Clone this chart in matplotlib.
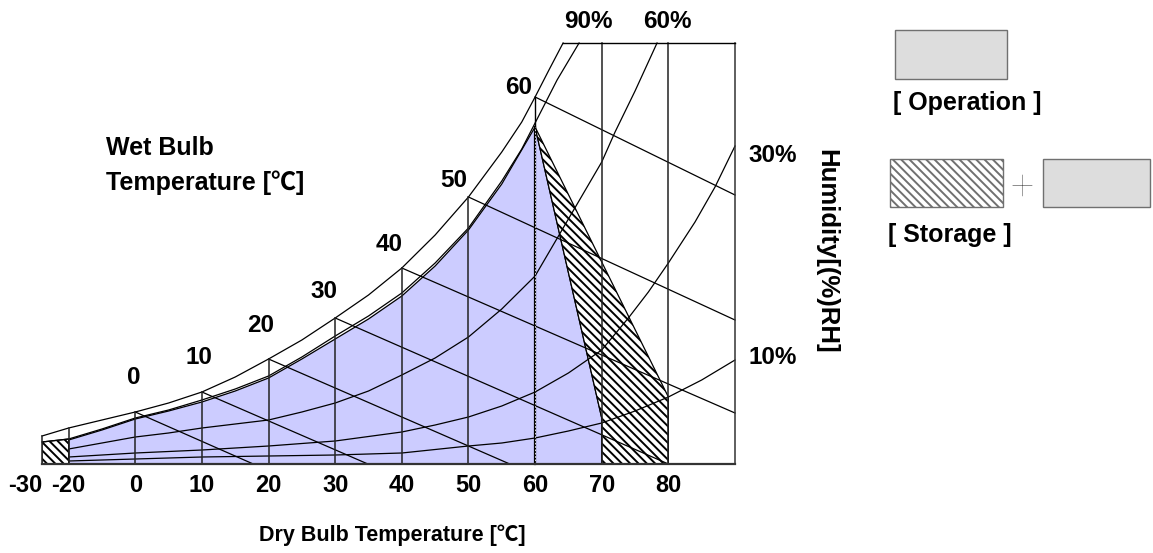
import numpy as np
import matplotlib
matplotlib.use("Agg")
import matplotlib.pyplot as plt
from matplotlib.patches import Polygon, Rectangle

# ---- data (h = height on the humidity scale) ----
db_ticks = [-30, -20, 0, 10, 20, 30, 40, 50, 60, 70, 80]
db_labels = ["-30", "-20", "0", "10", "20", "30", "40", "50", "60", "70", "80"]
db_top_h = [28, 36, 52, 72, 105, 146, 196, 267, 367, 421, 421]

sat_t = [-30, -20, -10, 0, 5, 10, 15, 20, 25, 30, 35, 40, 45, 50, 55, 58, 60, 62, 64.2]
sat_h = [28, 36, 44, 52, 61, 72, 87, 105, 124, 146, 169, 196, 229, 267, 312, 342, 367, 393, 421]

rh90_t = [-30, -20, -10, 0, 5, 10, 15, 20, 25, 30, 35, 40, 45, 50, 55, 58, 60, 63.3, 66.6]
rh90_h = [22, 25, 35, 46, 54, 64, 75, 88, 107, 128, 148, 171, 201, 236, 283, 315, 341, 384, 421]

rh60_t = [-20, -10, 0, 5, 10, 15, 20, 25, 30, 35, 40, 45, 50, 55, 60, 65, 70, 72, 75, 78.3]
rh60_h = [15, 21, 27, 31, 36, 40, 44, 52, 61, 73, 89, 106, 127, 155, 188, 245, 302, 332, 373, 421]

rh30_t = [-20, -10, 0, 10, 20, 30, 40, 45, 50, 55, 60, 65, 70, 74, 77, 80, 84, 87, 90]
rh30_h = [7, 9, 11, 14, 18, 23, 32, 39, 47, 58, 72, 91, 114, 146, 172, 201, 242, 277, 318]

rh10_t = [-20, -10, 0, 10, 20, 30, 40, 50, 55, 60, 65, 70, 75, 80, 85, 90]
rh10_h = [3, 4, 5, 7, 8, 9, 11, 18, 21, 26, 33, 41, 53, 67, 84, 104]

# wet bulb lines: start on the saturation curve, end point
wb_t = [0, 10, 20, 30, 40, 50, 60]
wb_start_h = [52, 72, 105, 146, 196, 267, 367]
wb_end_t = [17.7, 34.9, 56.2, 80, 90, 90, 90]
wb_end_h = [0, 0, 0, 0, 51, 144, 269]

# operation area (upper edge) and lower right corner
op_top_t = [-20, -10, 0, 5, 10, 15, 20, 25, 30, 35, 40, 45, 50, 55, 60]
op_top_h = [24, 34, 45, 53, 62, 73, 86, 105, 125, 145, 168, 198, 234, 280, 337]
op_corner_t = [70, 70]
op_corner_h = [46, 0]

# storage extension (hatched)
st_t = [60, 80, 80, 70, 70]
st_h = [337, 67, 0, 0, 46]
st_left_t = [-30, -30, -20, -20]
st_left_h = [0, 22, 25, 0]

W, H = 1153, 553
FONT = ["Liberation Sans", "Noto Sans CJK JP", "DejaVu Sans"]
plt.rcParams["font.family"] = FONT
plt.rcParams["hatch.linewidth"] = 1.4
HATCH = "\\\\\\\\"


def fwd(t):
    t = np.asarray(t, float)
    return np.where(t >= 0, t, np.where(t >= -20, t / 2, -10 + (t + 20) * 0.4))


def inv(c):
    c = np.asarray(c, float)
    return np.where(c >= 0, c, np.where(c >= -10, c * 2, -20 + (c + 10) / 0.4))


def px(x, y):
    return x / W, 1 - y / H


fig = plt.figure(figsize=(W / 100, H / 100), dpi=100)
ax = fig.add_axes([42 / W, (H - 464) / H, (735 - 42) / W, 421 / H])
ax.set_xscale("function", functions=(fwd, inv))
ax.set_xlim(-30, 90)
ax.set_ylim(0, 421)
for s in ax.spines.values():
    s.set_visible(False)
ax.set_yticks([])

# fills
op_t = [-20] + op_top_t + op_corner_t
op_h = [0] + op_top_h + op_corner_h
ax.add_patch(Polygon(list(zip(op_t, op_h)), closed=True, facecolor="#CCCCFF",
                     edgecolor="black", lw=0.9, zorder=1))
ax.add_patch(Polygon(list(zip(st_t, st_h)), closed=True, facecolor="white",
                     edgecolor="black", hatch=HATCH, lw=0.9, zorder=1))
ax.add_patch(Polygon(list(zip(st_left_t, st_left_h)), closed=True, facecolor="white",
                     edgecolor="black", hatch=HATCH, lw=0.9, zorder=1))

lk = dict(color="black", lw=0.9, clip_on=False, zorder=3)
for t, h in [(sat_t, sat_h), (rh90_t, rh90_h), (rh60_t, rh60_h),
             (rh30_t, rh30_h), (rh10_t, rh10_h)]:
    ax.plot(t, h, **lk)

for t0, h0, t1, h1 in zip(wb_t, wb_start_h, wb_end_t, wb_end_h):
    ax.plot([t0, t1], [h0, h1], **lk)

# dry bulb verticals
for t, top in zip(db_ticks, db_top_h):
    if t == 60:
        ax.plot([t, t], [0, op_top_h[-1]], color="black", lw=1.6, clip_on=False, zorder=4)
        ax.plot([t, t], [0, op_top_h[-1]], color="white", lw=0.6, ls=(0, (2, 2)),
                clip_on=False, zorder=5)
        ax.plot([t, t], [op_top_h[-1], top], color="black", lw=1.0, clip_on=False, zorder=4)
    else:
        ax.plot([t, t], [0, top], color="#222222", lw=1.1, clip_on=False, zorder=4)

# frame
ax.plot([-30, 90], [0, 0], color="#333333", lw=1.6, clip_on=False, zorder=5)
ax.plot([90, 90], [0, 421], color="#333333", lw=1.1, clip_on=False, zorder=5)
ax.plot([sat_t[-1], 90], [421, 421], color="black", lw=1.0, clip_on=False, zorder=5)

ax.set_xticks(db_ticks, db_labels)
ax.minorticks_off()
ax.tick_params(axis="x", length=0, pad=7, labelsize=17)
for lab in ax.get_xticklabels():
    lab.set_fontweight("bold")
ax.get_xticklabels()[0].set_ha("right")


def label(x, y, s, size=17.5, **kw):
    kw.setdefault("ha", "center")
    fig.text(*px(x, y), s, va="center", fontsize=size, fontweight="bold",
             family=FONT, **kw)


label(392, 535, "Dry Bulb Temperature [℃]", size=15.5)

wb_label_px = [(134, 378), (199, 357), (261, 326), (324, 292), (389, 245), (454, 181), (519, 87)]
for t, (x, y) in zip(wb_t, wb_label_px):
    label(x, y, str(t), size=17.5)

label(106, 148, "Wet Bulb", size=18, ha="left")
label(106, 183, "Temperature [℃]", size=18, ha="left")

for s, (x, y) in zip(["90%", "60%", "30%", "10%"],
                     [(588, 22), (667, 22), (773, 155), (773, 357)]):
    label(x, y, s, size=17.5)

label(826, 251, "Humidity[(%)RH]", size=18.5, rotation=-90)


# legend
def fig_rect(x0, y0, x1, y1, **kw):
    fig.add_artist(Rectangle(px(x0, y1), (x1 - x0) / W, (y1 - y0) / H,
                             transform=fig.transFigure, **kw))


fig_rect(895, 30, 1007, 79, facecolor="#DDDDDD", edgecolor="#707070", lw=1.0)
label(893, 103, "[ Operation ]", size=18, ha="left")
fig_rect(890, 159, 1003, 207, facecolor="white", edgecolor="#707070", lw=1.0,
         hatch=HATCH)
fig_rect(1043, 159, 1150, 207, facecolor="#DDDDDD", edgecolor="#707070", lw=1.0)
fig.text(*px(1022, 188), "+", ha="center", va="center", fontsize=31,
         family=["Lato", "DejaVu Sans"], fontweight="light", color="black")
label(888, 235, "[ Storage ]", size=18, ha="left")

fig.savefig("out.png", dpi=100)
